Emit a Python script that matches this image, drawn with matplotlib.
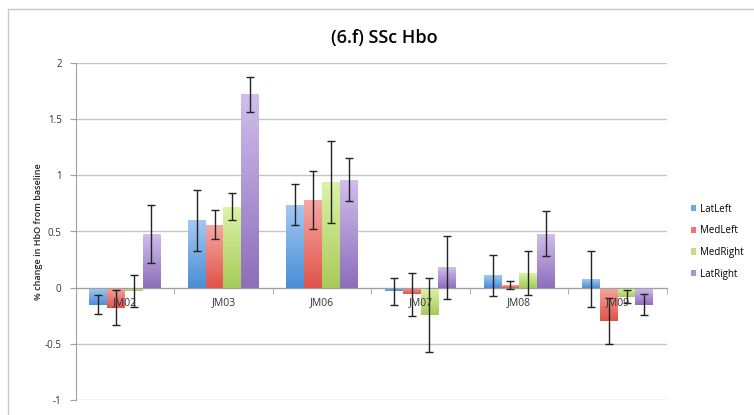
import matplotlib
matplotlib.use("Agg")
import matplotlib.pyplot as plt
import numpy as np
from matplotlib.patches import Rectangle
from matplotlib.colors import LinearSegmentedColormap

categories = ["JM02", "JM03", "JM06", "JM07", "JM08", "JM09"]
series_names = ["LatLeft", "MedLeft", "MedRight", "LatRight"]
lat_left = [-0.15, 0.60, 0.74, -0.03, 0.11, 0.08]
med_left = [-0.18, 0.56, 0.78, -0.06, 0.02, -0.30]
med_right = [-0.03, 0.72, 0.94, -0.24, 0.13, -0.08]
lat_right = [0.48, 1.72, 0.96, 0.18, 0.48, -0.15]
err_lat_left = [0.085, 0.27, 0.185, 0.12, 0.185, 0.25]
err_med_left = [0.155, 0.13, 0.26, 0.19, 0.035, 0.205]
err_med_right = [0.14, 0.12, 0.365, 0.33, 0.195, 0.055]
err_lat_right = [0.26, 0.155, 0.19, 0.28, 0.20, 0.09]
y_ticks = [-1, -0.5, 0, 0.5, 1, 1.5, 2]
y_tick_labels = ["-1", "-0.5", "0", "0.5", "1", "1.5", "2"]

values = [lat_left, med_left, med_right, lat_right]
errors = [err_lat_left, err_med_left, err_med_right, err_lat_right]
colors = ["#6FA8E6", "#EE7670", "#BFE07E", "#AC92D4"]
tops = ["#A2C8F2", "#F7A7A1", "#DDF2A6", "#D0BDEC"]
bottoms = ["#4A8ED6", "#E0534B", "#A6CB5A", "#8D6EBB"]

plt.rcParams['font.family'] = ['Open Sans', 'DejaVu Sans']

fig = plt.figure(figsize=(7.54, 4.15), dpi=100)
fig.patches.append(Rectangle((8/754, -0.1), 1.2, 1 - 9/415 + 0.1, transform=fig.transFigure,
                             fill=False, edgecolor="#C8C8C8", linewidth=1.0))
ax = fig.add_axes([75.5/754, 1 - 400/415, (667 - 75.5)/754, (400 - 63)/415])

x = np.arange(len(categories))
w = 0.18
grad = np.linspace(1, 0, 64).reshape(-1, 1)
for i, (vals, errs, c, name) in enumerate(zip(values, errors, colors, series_names)):
    pos = x + (i - 1.5) * w
    bars = ax.bar(pos, vals, width=w, color=c, label=name, zorder=2, linewidth=0)
    cmap = LinearSegmentedColormap.from_list("g%d" % i, [bottoms[i], tops[i]])
    for b in bars:
        x0, y0, bw, bh = b.get_x(), b.get_y(), b.get_width(), b.get_height()
        ylo, yhi = min(y0, y0 + bh), max(y0, y0 + bh)
        im = ax.imshow(grad, cmap=cmap, vmin=0, vmax=1, aspect='auto',
                       extent=(x0, x0 + bw, ylo, yhi), zorder=2.1, interpolation='bilinear')
        im.set_clip_path(b)
    ax.errorbar(pos, vals, yerr=errs, fmt='none', ecolor='#222222', elinewidth=1.0,
                capsize=3, capthick=1.0, zorder=3)

ax.set_xlim(-0.5, len(categories) - 0.5)
ax.set_ylim(-1, 2)
ax.set_yticks(y_ticks)
ax.set_yticklabels(y_tick_labels, fontsize=7, color="#333333")
ax.yaxis.grid(True, color="#C4C4C4", linewidth=1.0, zorder=0)
ax.set_axisbelow(True)

for s in ["top", "right"]:
    ax.spines[s].set_visible(False)
ax.spines["left"].set_color("#A0A0A0")
ax.spines["bottom"].set_position(("data", 0))
ax.spines["bottom"].set_color("#A0A0A0")
ax.spines["bottom"].set_zorder(2.5)
ax.tick_params(axis='y', length=4, color="#A0A0A0", pad=6)
ax.set_xticks(x)
ax.set_xticklabels(categories, fontsize=7.5, color="#333333")
ax.tick_params(axis='x', length=0, pad=7)
ax.set_xticks(np.arange(len(categories) + 1) - 0.5, minor=True)
ax.tick_params(axis='x', which='minor', length=4, color="#A0A0A0", direction='out')
ax.xaxis.set_zorder(5)

ax.set_ylabel("% change in HbO from baseline", fontsize=6.5, fontweight='semibold',
              labelpad=1, color="#222222")
fig.text(384 / 754, 1 - 38/415, "(6.f) SSc Hbo", ha='center', va='center',
         fontsize=13, fontweight='semibold')

ax.legend(loc='center left', bbox_to_anchor=(1.025, 0.47), frameon=False, fontsize=7,
          handlelength=0.6, handleheight=0.6, labelspacing=1.1, handletextpad=0.4)

fig.savefig("out.png", dpi=100)
